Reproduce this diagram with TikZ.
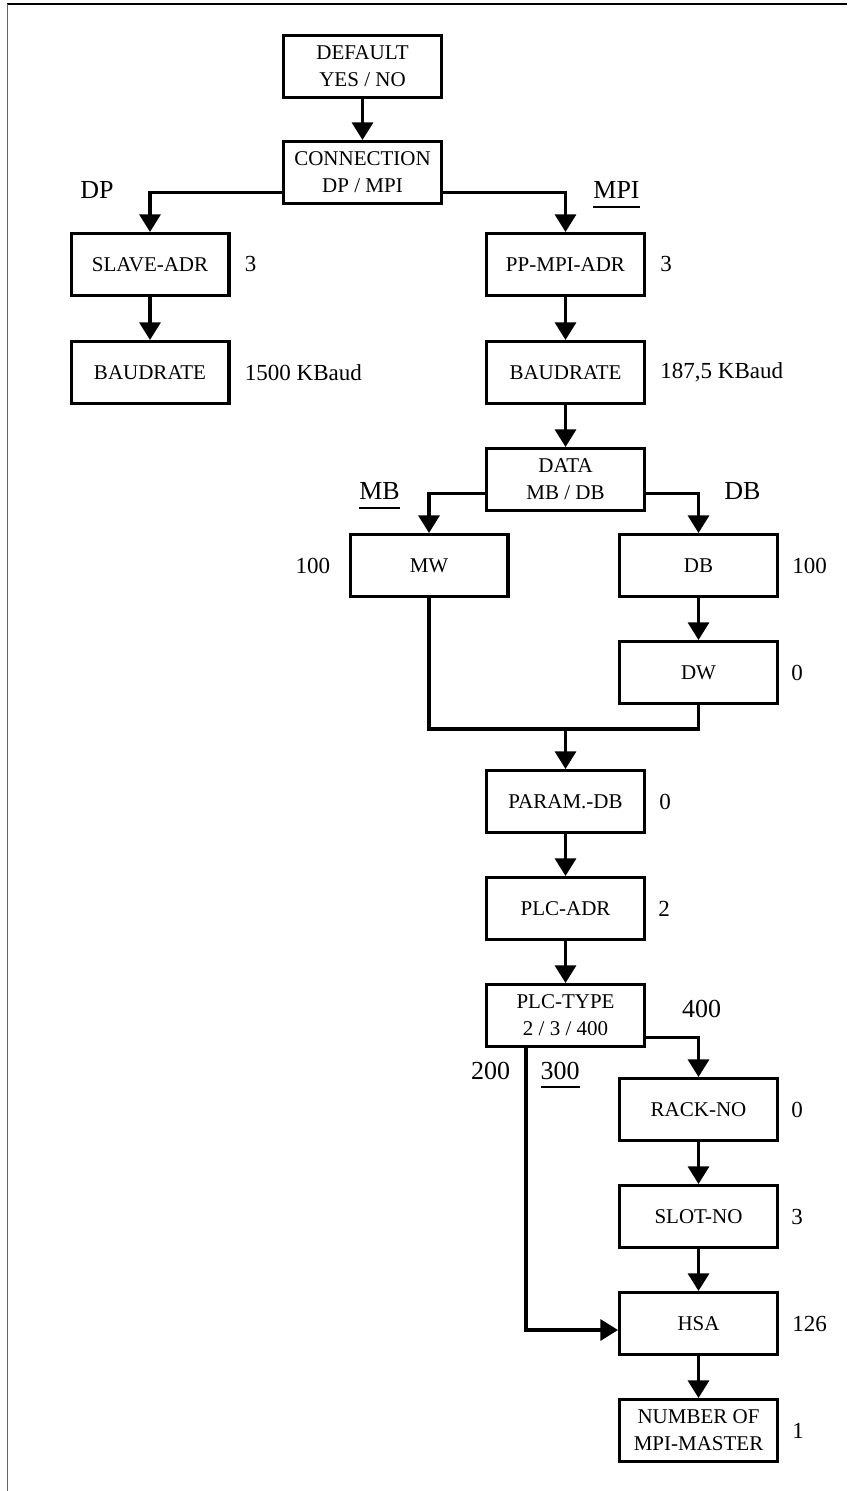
\documentclass[tikz,border=0pt]{standalone}
\usepackage{fontspec}
\setmainfont{Liberation Serif}
\usepackage{tikz}
\usetikzlibrary{arrows.meta}
\usetikzlibrary{calc}
\usetikzlibrary{positioning}
\tikzstyle{block} = [draw,rectangle,line width=1.6pt,minimum height=30.9pt,minimum width=78.9pt,align=center,font=\fontsize{10.5}{13.5}\selectfont]
\tikzstyle{connector} = [-{Triangle[width=10.5pt,length=8.8pt]},line width=1.6pt]
\tikzstyle{plainline} = [line width=1.6pt]
\tikzstyle{vallabel} = [inner sep=0pt,font=\fontsize{11.5}{14}\selectfont]
\tikzstyle{optlabel} = [inner sep=0pt,font=\fontsize{13}{15}\selectfont]
\newsavebox{\ulbox}
\newcommand{\ulabel}[1]{\sbox{\ulbox}{#1}\rlap{\raisebox{-4.5pt}{\rule{\wd\ulbox}{0.9pt}}}\usebox{\ulbox}}

\begin{document}
\begin{tikzpicture}
\useasboundingbox (0,0) rectangle (423.5pt,-745.5pt);
\draw [line width=0.7pt] (3.5pt,-2pt) -- (423.5pt,-2pt);
\draw [draw=black!60, line width=0.9pt] (3.75pt,-2pt) -- (3.75pt,-745.5pt);

  \node[block] (dflt) at (181.25pt,-33.25pt) {DEFAULT\\YES / NO};
  \node[block, below = 20.5pt of dflt] (conn) {CONNECTION\\DP / MPI};

  \node[block, below = 13.5pt of conn, xshift=-106.25pt] (slave) {SLAVE-ADR};
  \node[block, below = 13.5pt of conn, xshift=101.5pt] (ppmpi) {PP-MPI-ADR};
  \node[block, below = 21.5pt of slave] (baud1) {BAUDRATE};
  \node[block, below = 21.5pt of ppmpi] (baud2) {BAUDRATE};

  \node[block, below = 21pt of baud2] (data) {DATA\\MB / DB};
  \node[block, below = 10.5pt of data, xshift=-68.25pt] (mw) {MW};
  \node[block, below = 10.5pt of data, xshift=66.5pt] (db) {DB};
  \node[block, below = 21pt of db] (dw) {DW};
  \coordinate[below = 12pt of {$(dw.south -| data)$}] (join);

  \node[block, below = 20pt of join] (param) {PARAM.-DB};
  \node[block, below = 21pt of param] (plcadr) {PLC-ADR};
  \node[block, below = 21pt of plcadr] (plctype) {PLC-TYPE\\2 / 3 / 400};
  \node[block, below = 14.5pt of plctype, xshift=66.5pt] (rack) {RACK-NO};
  \node[block, below = 21pt of rack] (slot) {SLOT-NO};
  \node[block, below = 21pt of slot] (hsa) {HSA};
  \node[block, below = 21pt of hsa] (number) {NUMBER OF\\MPI-MASTER};

  \node[optlabel, above = 16.5pt of slave, xshift=-26.5pt] (dp) {DP};
  \node[optlabel, above = 12pt of ppmpi, xshift=25.5pt] (mpi) {\ulabel{MPI}};
  \node[optlabel, above = 12pt of mw, xshift=-24.75pt] (mb) {\ulabel{MB}};
  \node[optlabel, above = 16.5pt of db, xshift=22pt] (dbopt) {DB};
  \node[optlabel, above = 29.5pt of rack, xshift=1.5pt] (t400) {400};
  \node[optlabel, below = 6.7pt of plctype, xshift=-37.5pt] (t200) {200};
  \node[optlabel, below = 6.7pt of plctype, xshift=-2.75pt] (t300) {\ulabel{300}};

  \node[vallabel, right = 7pt of slave] (v1) {3};
  \node[vallabel, right = 7pt of ppmpi] (v2) {3};
  \node[vallabel, right = 7pt of baud1] (v3) {1500 KBaud};
  \node[vallabel, right = 7pt of baud2] (v4) {187,5 KBaud};
  \node[vallabel, left = 9pt of mw] (v5) {100};
  \node[vallabel, right = 6.5pt of db] (v6) {100};
  \node[vallabel, right = 6pt of dw] (v7) {0};
  \node[vallabel, right = 6.5pt of param] (v8) {0};
  \node[vallabel, right = 6pt of plcadr] (v9) {2};
  \node[vallabel, right = 6pt of rack] (v10) {0};
  \node[vallabel, right = 6pt of slot] (v11) {3};
  \node[vallabel, right = 6.5pt of hsa] (v12) {126};
  \node[vallabel, right = 6.5pt of number] (v13) {1};

% now link the nodes

\draw [connector] (dflt) -- (conn);
\draw [connector] ([yshift=-10pt]conn.west) -| (slave);
\draw [connector] ([yshift=-10pt]conn.east) -| (ppmpi);
\draw [connector] (slave) -- (baud1);
\draw [connector] (ppmpi) -- (baud2);
\draw [connector] (baud2) -- (data);
\draw [connector] ([yshift=-7pt]data.west) -| (mw);
\draw [connector] ([yshift=-7pt]data.east) -| (db);
\draw [connector] (db) -- (dw);
\draw [plainline] (mw) |- (join) -| (dw);
\draw [connector] (join) -- (param);
\draw [connector] (param) -- (plcadr);
\draw [connector] (plcadr) -- (plctype);
\draw [connector] ([yshift=-11pt]plctype.east) -| (rack);
\draw [connector] (rack) -- (slot);
\draw [connector] (slot) -- (hsa);
\draw [connector] ([xshift=-19.75pt]plctype.south) |- ([yshift=-3.25pt]hsa.west);
\draw [connector] (hsa) -- (number);
\end{tikzpicture}
\end{document}
